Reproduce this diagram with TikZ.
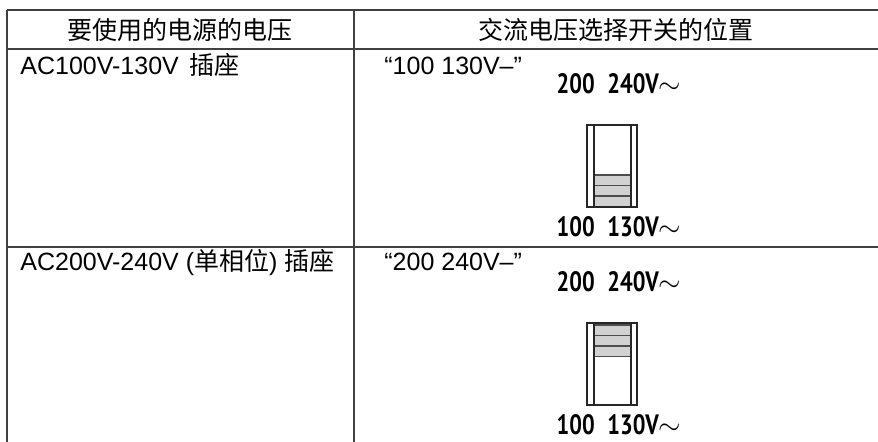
\documentclass[tikz,border=0pt]{standalone}
\usepackage{fontspec}
\setmainfont{Liberation Sans}
\newfontfamily\cjk{Noto Sans CJK SC}
\newfontfamily\swfont{PT Sans}[FakeStretch=0.8]
\usetikzlibrary{positioning}

\begin{document}
\begin{tikzpicture}[
        x=0.5pt, y=-0.5pt,
        font=\fontsize{12.5}{14}\selectfont,
        rule/.style = {draw=black!75, line width=1pt},% table lines
        head/.style = {inner sep=0pt, anchor=center},
        cell/.style = {inner sep=0pt, anchor=base west},
        swlbl/.style = {inner sep=0pt, anchor=base,
                font=\fontsize{14}{16}\swfont\bfseries},
        swbox/.style = {draw=black!85, line width=0.9pt},
        swseg/.style = {draw=black!70, fill=black!18, line width=0.7pt},
    ]
    \useasboundingbox (0,0) rectangle (878,442);
    % table rules
    \draw[rule] (7,10) -- (878,10);
    \draw[rule] (7,49) -- (878,49);
    \draw[rule] (7,247) -- (878,247);
    \draw[rule] (7,10) -- (7,442);
    \draw[rule] (354,10) -- (354,442);
    % header
    \node[head] (hvolt) at (180,30) {\cjk 要使用的电源的电压};
    \node[head] (hpos) at (616,30) {\cjk 交流电压选择开关的位置};
    % rows
    \node[cell] (low) at (20,75) {AC100V-130V \,{\cjk 插座}};
    \node[cell] (lowset) at (384,75) {“100 130V–”};
    \node[cell] (high) at (20,271) {AC200V-240V ({\cjk 单相位}) {\cjk 插座}};
    \node[cell] (highset) at (384,271) {“200 240V–”};
    % switches: top y, first grey segment y
    \foreach \t/\g/\n in {125/175/a, 323/325/b} {
        \node[swlbl] (up\n) at (619,\t-31) {200\hspace{0.45em}240V$\sim$};
        \foreach \k in {0,1,2}
            \draw[swseg] (594,\g+\k*10.5) rectangle (631,\g+\k*10.5+10.5);
        \draw[swbox] (587,\t) rectangle (637,\t+82);
        \draw[swbox] (594,\t) -- (594,\t+82) (631,\t) -- (631,\t+82);
        \node[swlbl] (dn\n) at (619,\t+112) {100\hspace{0.45em}130V$\sim$};
    }
\end{tikzpicture}
\end{document}
